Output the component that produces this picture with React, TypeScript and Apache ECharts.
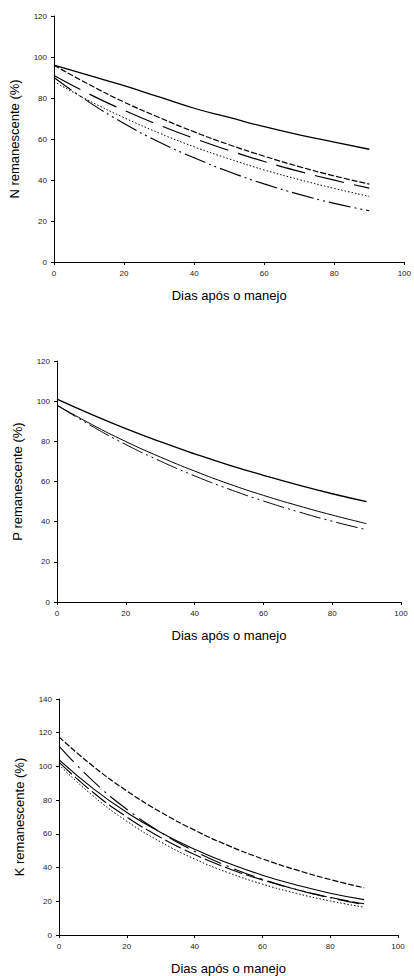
import React, { useEffect, useRef } from "react";
import * as echarts from "echarts";

const days = [0, 10, 20, 30, 40, 50, 60, 70, 80, 90];
const xTicks = [0, 20, 40, 60, 80, 100];

// Panel N
const nSolid = [96, 91, 86, 80.5, 75, 70.5, 66, 62, 58.5, 55];
const nShortDash = [96, 86.6, 78, 70.5, 63.5, 57.2, 51.6, 46.5, 42, 38];
const nLongDash = [91, 82, 74, 66.8, 60.3, 54.4, 49, 44.2, 39.9, 36];
const nDotted = [88, 78.7, 70.4, 62.9, 56.2, 50.3, 44.9, 40.2, 35.9, 32];
const nDashDot = [90, 78, 67.6, 58.5, 50.8, 44, 38.1, 33, 28.6, 25];

// Panel P
const pSolidUpper = [101, 93.4, 86.3, 79.8, 73.8, 68.2, 63.1, 58.3, 53.9, 50];
const pSolidLower = [98, 88.5, 79.9, 72.2, 65.2, 58.8, 53.1, 48, 43.3, 39];
const pDashDot = [98, 87.7, 78.4, 70.2, 62.8, 56.2, 50.3, 45, 40.2, 36];

// Panel K
const kShortDash = [117.5, 100.2, 85.5, 72.9, 62.2, 53, 45.2, 38.6, 32.9, 28];
const kDashDot = [112, 91.4, 74.6, 60.9, 49.7, 40.6, 33.1, 27, 22.1, 18];
const kSolid = [104, 87, 72.7, 60.8, 50.8, 42.5, 35.5, 29.7, 24.8, 21];
const kLongDash = [102.5, 84.7, 70, 57.9, 47.8, 39.5, 32.7, 27, 22.3, 18.5];
const kDotted = [101, 82.6, 67.5, 55.2, 45.1, 36.9, 30.2, 24.7, 20.2, 16.5];

const yTitles = ["N remanescente (%)", "P remanescente (%)", "K remanescente (%)"];
const xTitle = "Dias após o manejo";
const yMax = [120, 120, 140];

const FONT = "'Liberation Sans', Arial, Helvetica, sans-serif";

const pts = (vals: number[]) => days.map((d, i) => [d, vals[i]]);

const SOLID = "solid";
const SHORT = [6, 2];
const LONG = [30, 10];
const DOT = [1.5, 2];
const DASHDOT = [22, 4, 2, 4, 2, 4];
const K_DASHDOT = [22, 6, 2, 6];
const K_LONG = [18, 4];

export default function App() {
  const ref = useRef<HTMLDivElement>(null);
  useEffect(() => {
    if (!ref.current) return;
    const chart = echarts.init(ref.current, null, { renderer: "svg" });
    const grids = [
      { left: 53, top: 16, width: 352, height: 246 },
      { left: 57, top: 361, width: 344, height: 241 },
      { left: 59, top: 699, width: 339, height: 236 },
    ];
    const xAxes = grids.map((_, i) => ({
      type: "value",
      gridIndex: i,
      min: 0,
      max: 100,
      interval: 20,
      name: xTitle,
      nameLocation: "middle",
      nameGap: 27,
      nameTextStyle: { fontSize: 13, color: "#000", fontFamily: FONT },
      axisLine: { show: true, onZero: false, lineStyle: { color: "#000", width: 1 } },
      axisTick: { show: true, length: 3, inside: false, lineStyle: { color: "#000" } },
      axisLabel: { fontSize: 8, color: "#222", fontFamily: FONT, margin: 7 },
      splitLine: { show: false },
    }));
    const yAxes = grids.map((_, i) => ({
      type: "value",
      gridIndex: i,
      min: 0,
      max: yMax[i],
      interval: 20,
      name: yTitles[i],
      nameLocation: "middle",
      nameRotate: 90,
      nameGap: 33,
      nameTextStyle: { fontSize: 13, color: "#000", fontFamily: FONT },
      axisLine: { show: true, onZero: false, lineStyle: { color: "#000", width: 1 } },
      axisTick: { show: true, length: 3, inside: false, lineStyle: { color: "#000" } },
      axisLabel: { fontSize: 8, color: "#222", fontFamily: FONT, margin: 7 },
      splitLine: { show: false },
    }));
    const line = (idx: number, vals: number[], type: any, width = 1) => ({
      type: "line",
      xAxisIndex: idx,
      yAxisIndex: idx,
      data: pts(vals),
      smooth: true,
      showSymbol: false,
      symbol: "none",
      lineStyle: { color: "#000", width, type },
      z: 3,
    });
    const series = [
      line(0, nSolid, SOLID, 1.3),
      line(0, nShortDash, SHORT, 1.2),
      line(0, nLongDash, LONG, 1.2),
      line(0, nDotted, DOT, 1),
      line(0, nDashDot, DASHDOT, 1.1),
      line(1, pSolidUpper, SOLID, 1.3),
      line(1, pSolidLower, SOLID, 1),
      line(1, pDashDot, DASHDOT, 1),
      line(2, kShortDash, SHORT, 1.2),
      line(2, kDashDot, K_DASHDOT, 1.1),
      line(2, kSolid, SOLID, 1.1),
      line(2, kLongDash, K_LONG, 1.1),
      line(2, kDotted, DOT, 1),
    ];
    chart.setOption({
      animation: false,
      backgroundColor: "#fff",
      textStyle: { fontFamily: FONT },
      grid: grids,
      xAxis: xAxes,
      yAxis: yAxes,
      series,
    } as any);
    return () => chart.dispose();
  }, []);
  return (
    <div
      ref={ref}
      style={{ position: "absolute", left: 0, top: 0, width: 414, height: 976, background: "#fff" }}
    />
  );
}
